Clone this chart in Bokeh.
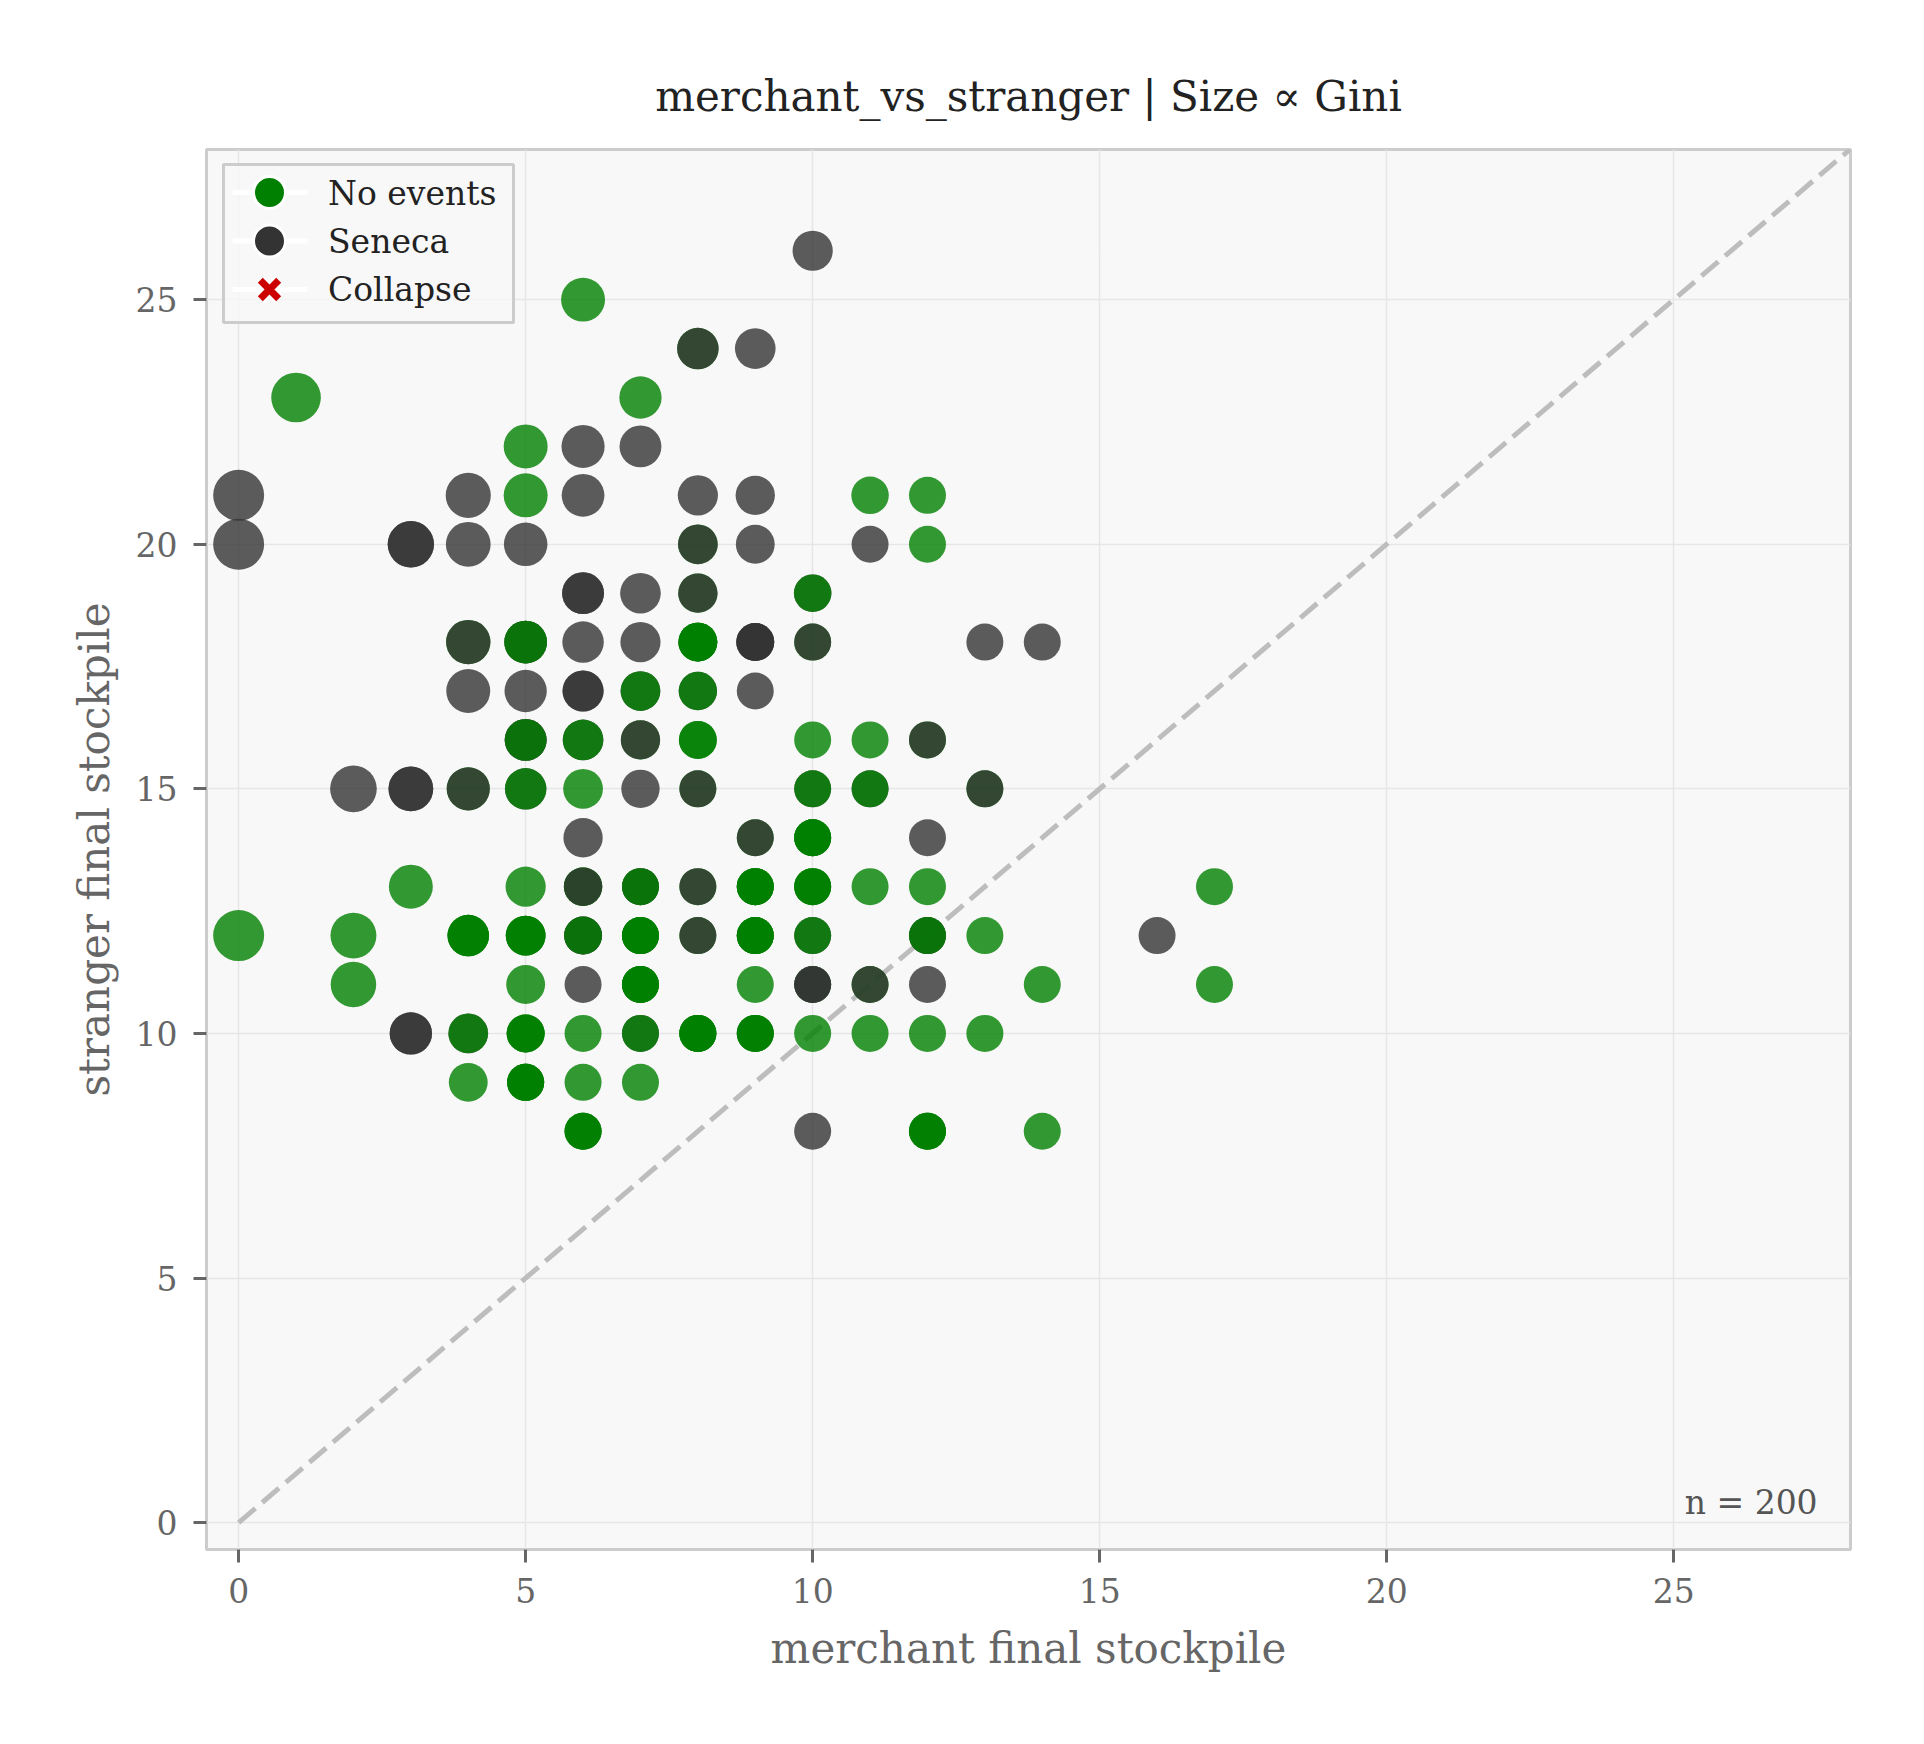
import math
from bokeh.plotting import figure
from bokeh.models import ColumnDataSource, Legend, LegendItem, Label, FixedTicker, Range1d
from bokeh.transform import factor_cmap
from bokeh.embed import file_html
from bokeh.resources import INLINE

# ---------------- data ----------------
TITLE = "merchant_vs_stranger | Size \u221d Gini"
X_LABEL = "merchant final stockpile"
Y_LABEL = "stranger final stockpile"
TICKS = [0, 5, 10, 15, 20, 25]
X_RANGE = (-0.56, 28.08)
Y_RANGE = (-0.55, 28.07)

CONDITIONS = ["No events", "Seneca", "Collapse"]
COND_COLORS = ["#008000", "#333333", "#cc0000"]
LAYER_CODE = {"G": "No events", "K": "Seneca"}

# one entry per grid position; LAYERS lists the runs stacked there (in drawing order)
MERCHANT = [10, 6, 8, 9, 1, 7, 5, 6, 7,
            0, 4, 5, 6, 8, 9, 11, 12,
            0, 3, 4, 5, 8, 9, 11, 12,
            6, 7, 8, 10,
            4, 5, 6, 7, 8, 9, 10, 13, 14,
            4, 5, 6, 7, 8, 9,
            5, 6, 7, 8, 10, 11, 12,
            2, 3, 4, 5, 6, 7, 8, 10, 11, 13,
            6, 9, 10, 12,
            3, 5, 6, 7, 8, 9, 10, 11, 12, 17,
            0, 2, 4, 5, 6, 7, 8, 9, 10, 12, 13, 16,
            2, 5, 6, 7, 9, 10, 11, 12, 14, 17,
            3, 4, 5, 6, 7, 8, 9, 10, 11, 12, 13,
            4, 5, 6, 7,
            6, 10, 12, 14]
STRANGER = [26, 25, 24, 24, 23, 23, 22, 22, 22,
            21, 21, 21, 21, 21, 21, 21, 21,
            20, 20, 20, 20, 20, 20, 20, 20,
            19, 19, 19, 19,
            18, 18, 18, 18, 18, 18, 18, 18, 18,
            17, 17, 17, 17, 17, 17,
            16, 16, 16, 16, 16, 16, 16,
            15, 15, 15, 15, 15, 15, 15, 15, 15, 15,
            14, 14, 14, 14,
            13, 13, 13, 13, 13, 13, 13, 13, 13, 13,
            12, 12, 12, 12, 12, 12, 12, 12, 12, 12, 12, 12,
            11, 11, 11, 11, 11, 11, 11, 11, 11, 11,
            10, 10, 10, 10, 10, 10, 10, 10, 10, 10, 10,
            9, 9, 9, 9,
            8, 8, 8, 8]
LAYERS = ["K", "G", "GK", "K", "G", "G", "G", "K", "K",
          "K", "K", "G", "K", "K", "K", "G", "G",
          "K", "KK", "K", "K", "GK", "K", "K", "G",
          "KK", "K", "GK", "KG",
          "GK", "GKG", "K", "K", "GGGG", "KKK", "GK", "K", "K",
          "K", "K", "KK", "KG", "KG", "K",
          "KKG", "KG", "GK", "GG", "G", "G", "GK",
          "K", "KK", "GK", "KG", "G", "K", "GK", "KG", "KG", "GK",
          "K", "GK", "GGGG", "K",
          "G", "G", "GGK", "GKG", "GK", "GGGG", "GGG", "G", "G", "G",
          "G", "G", "GGG", "GGG", "KKG", "GGGG", "GK", "GGGG", "KG", "GKG", "G", "K",
          "G", "G", "K", "GGGG", "G", "GKK", "GK", "K", "G", "G",
          "KK", "KG", "GGG", "G", "KG", "GGGG", "GGG", "G", "G", "G", "G",
          "G", "GGGG", "G", "G",
          "GGG", "K", "GGG", "G"]
GINI = [0.22, 0.31, 0.25, 0.23, 0.46, 0.27, 0.31, 0.29, 0.26,
        0.50, 0.34, 0.31, 0.28, 0.22, 0.20, 0.16, 0.14,
        0.50, 0.37, 0.33, 0.30, 0.21, 0.19, 0.15, 0.13,
        0.26, 0.23, 0.20, 0.16,
        0.32, 0.28, 0.25, 0.22, 0.19, 0.17, 0.14, 0.08, 0.06,
        0.31, 0.27, 0.24, 0.21, 0.18, 0.15,
        0.26, 0.23, 0.20, 0.17, 0.12, 0.09, 0.07,
        0.38, 0.33, 0.29, 0.25, 0.21, 0.18, 0.15, 0.10, 0.08, 0.04,
        0.20, 0.11, 0.08, 0.04,
        0.31, 0.22, 0.18, 0.15, 0.12, 0.09, 0.07, 0.04, 0.02, 0.07,
        0.50, 0.36, 0.25, 0.21, 0.17, 0.13, 0.10, 0.07, 0.05, 0.00, 0.02, 0.07,
        0.35, 0.19, 0.15, 0.11, 0.05, 0.02, 0.00, 0.02, 0.06, 0.11,
        0.27, 0.21, 0.17, 0.13, 0.09, 0.06, 0.03, 0.00, 0.02, 0.05, 0.07,
        0.19, 0.14, 0.10, 0.06,
        0.07, 0.06, 0.10, 0.14]

# ---------------- expand to one row per run ----------------
xs, ys, gs, cs = [], [], [], []
for m, s, lay, g in zip(MERCHANT, STRANGER, LAYERS, GINI):
    for ch in lay:
        xs.append(m)
        ys.append(s)
        gs.append(g)
        cs.append(LAYER_CODE[ch])

SIZE_BASE, SIZE_GAIN, GINI_FLOOR = 841.0, 3520.0, 0.15
sizes = [math.sqrt(SIZE_BASE + SIZE_GAIN * max(g, GINI_FLOOR)) for g in gs]

src = ColumnDataSource(dict(x=xs, y=ys, gini=gs, size=sizes, cond=cs))

SERIF = "DejaVu Serif"
W, H = 1908, 1728
FRAME_L, FRAME_T, FRAME_W, FRAME_H = 206, 149, 1644, 1400

p = figure(width=W, height=H, output_backend="svg", toolbar_location=None,
           x_range=Range1d(*X_RANGE), y_range=Range1d(*Y_RANGE),
           min_border_left=FRAME_L, min_border_right=W - FRAME_L - FRAME_W,
           min_border_top=FRAME_T, min_border_bottom=H - FRAME_T - FRAME_H,
           background_fill_color="#f8f8f8", border_fill_color="white")

p.title.text = TITLE
p.title.text_font = SERIF
p.title.text_font_size = "42px"
p.title.text_font_style = "normal"
p.title.text_color = "#222222"
p.title.align = "center"
p.title.standoff = 57

p.outline_line_color = "#cccccc"
p.outline_line_width = 3

for ax in (p.xaxis[0], p.yaxis[0]):
    ax.ticker = FixedTicker(ticks=TICKS)
    ax.axis_line_color = None
    ax.major_tick_in = 0
    ax.major_tick_out = 13
    ax.major_tick_line_color = "#666666"
    ax.major_tick_line_width = 3
    ax.minor_tick_line_color = None
    ax.major_label_text_font = SERIF
    ax.major_label_text_font_size = "33px"
    ax.major_label_text_color = "#666666"
    ax.axis_label_text_font = SERIF
    ax.axis_label_text_font_size = "42px"
    ax.axis_label_text_font_style = "normal"
    ax.axis_label_text_color = "#666666"

p.xaxis.axis_label = X_LABEL
p.yaxis.axis_label = Y_LABEL
p.xaxis.major_label_standoff = 15
p.yaxis.major_label_standoff = 16
p.xaxis.axis_label_standoff = 18
p.yaxis.axis_label_standoff = 14

p.grid.grid_line_color = "#e6e6e6"
p.grid.grid_line_width = 1.5

# diagonal y = x reference
diag = [0, max(X_RANGE[1], Y_RANGE[1]) + 1]
p.line(diag, diag, line_color="#bdbdbd", line_width=5, line_dash="22 9")

# runs
p.scatter("x", "y", source=src, size="size", marker="circle",
          fill_color=factor_cmap("cond", COND_COLORS, CONDITIONS),
          fill_alpha=0.8, line_color=None)

# ---------------- legend ----------------
# layout constants in screen pixels measured from the frame's top-left corner
px_x = FRAME_W / (X_RANGE[1] - X_RANGE[0])
px_y = FRAME_H / (Y_RANGE[1] - Y_RANGE[0])


def dx(px):
    return X_RANGE[0] + px / px_x


def dy(py):
    return Y_RANGE[1] - py / px_y


BOX_L, BOX_T, BOX_R, BOX_B = 17, 15, 307, 173
ROW_PX = [43, 91.5, 140]
HANDLE_X, LINE_X0, LINE_X1 = 63, 26, 101

# legend box
p.quad(left=[dx(BOX_L)], right=[dx(BOX_R)], top=[dy(BOX_T)], bottom=[dy(BOX_B)],
       fill_color="#f8f8f8", fill_alpha=0.8, line_color="#cccccc", line_width=3)
# white handle lines
p.segment(x0=[dx(LINE_X0)] * 3, x1=[dx(LINE_X1)] * 3,
          y0=[dy(r) for r in ROW_PX], y1=[dy(r) for r in ROW_PX],
          line_color="white", line_width=5)
# handle markers
p.scatter(x=[dx(HANDLE_X)] * 2, y=[dy(ROW_PX[0]), dy(ROW_PX[1])], size=32, marker="circle",
          fill_color=COND_COLORS[:2], line_color="white", line_width=3)
p.scatter(x=[dx(HANDLE_X)], y=[dy(ROW_PX[2])], size=26, marker="x",
          line_color="white", line_width=12)
p.scatter(x=[dx(HANDLE_X)], y=[dy(ROW_PX[2])], size=26, marker="x",
          line_color=COND_COLORS[2], line_width=7)

nan = float("nan")
ghost = p.scatter(x=[nan], y=[nan], size=1, fill_alpha=0, line_alpha=0)
legend = Legend(items=[LegendItem(label=c, renderers=[ghost]) for c in CONDITIONS],
                location="top_left")
legend.margin = 20
legend.padding = 8
legend.spacing = 0
legend.glyph_width = 78
legend.glyph_height = 48
legend.label_height = 48
legend.label_standoff = 24
legend.label_text_font = SERIF
legend.label_text_font_size = "33px"
legend.label_text_color = "#222222"
legend.border_line_color = None
legend.background_fill_alpha = 0.0
p.add_layout(legend, "center")

# n = ... annotation at axes fraction (0.98, 0.02)
fx, fy = 0.98, 0.02
lx = X_RANGE[0] + fx * (X_RANGE[1] - X_RANGE[0])
ly = Y_RANGE[0] + fy * (Y_RANGE[1] - Y_RANGE[0])
p.add_layout(Label(x=lx, y=ly, text=f"n = {len(xs)}", text_align="right",
                   text_baseline="bottom", text_font=SERIF, text_font_size="33px",
                   text_color="#555555"))

open("out.html", "w").write(file_html(p, INLINE))
